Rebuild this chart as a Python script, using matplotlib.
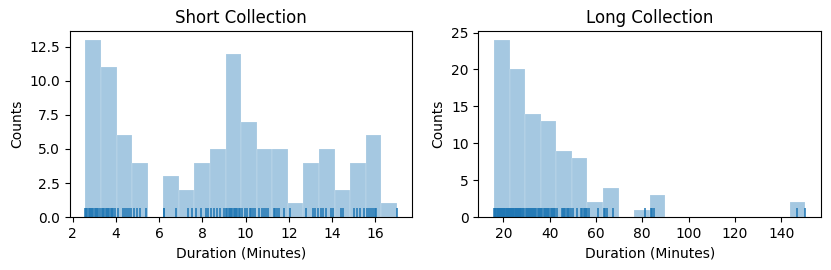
import matplotlib
matplotlib.use('Agg')
import matplotlib.pyplot as plt
import numpy as np

# durations in minutes (100 sessions each)
short_durations = [
    2.58, 2.62, 2.67, 2.73, 2.78, 2.84, 2.89, 2.95, 3.01, 3.07, 3.12, 3.18, 3.25,
    3.34, 3.40, 3.46, 3.52, 3.58, 3.63, 3.69, 3.75, 3.82, 3.88, 3.95,
    4.09, 4.31, 4.42, 4.50, 4.62, 4.70,
    4.85, 4.98, 5.10, 5.41,
    6.20, 6.24, 6.77,
    7.35, 7.52,
    7.69, 7.95, 8.15, 8.28,
    8.42, 8.55, 8.66, 8.80, 8.98,
    9.10, 9.15, 9.21, 9.27, 9.33, 9.38, 9.44, 9.50, 9.56, 9.62, 9.68, 9.74,
    9.84, 9.95, 10.05, 10.18, 10.25, 10.36, 10.45,
    10.62, 10.74, 10.85, 10.96, 11.05,
    11.30, 11.38, 11.47, 11.56, 11.80,
    12.05,
    12.80, 13.10, 13.22, 13.33,
    13.48, 13.58, 13.70, 13.96, 14.03,
    14.40, 14.52,
    15.02, 15.15, 15.30, 15.46,
    15.62, 15.72, 15.80, 15.90, 15.98, 16.05,
    17.00,
]

long_durations = [
    16.0, 16.3, 16.6, 16.9, 17.2, 17.5, 17.8, 18.1, 18.4, 18.7, 19.0, 19.3,
    19.6, 19.9, 20.2, 20.5, 20.8, 21.1, 21.4, 21.6, 21.9, 22.1, 22.3, 22.5,
    22.9, 23.2, 23.5, 23.8, 24.1, 24.4, 24.7, 25.0, 25.3, 25.6, 25.9, 26.2,
    26.5, 26.8, 27.1, 27.4, 27.8, 28.2, 28.6, 29.0,
    29.7, 30.1, 30.6, 31.0, 31.5, 31.9, 32.4, 32.8, 33.3, 33.8, 34.3, 34.8, 35.3, 35.8,
    36.4, 36.9, 37.4, 37.9, 38.4, 38.9, 39.4, 39.9, 40.4, 40.9, 41.4, 41.9, 42.5,
    43.3, 45.3, 45.8, 46.3, 46.8, 47.4, 47.9, 48.5, 49.2,
    50.2, 52.0, 53.5, 54.1, 54.7, 55.3, 55.8, 56.1,
    57.1, 61.0,
    63.5, 64.1, 65.0, 67.2,
    81.4,
    83.8, 84.3, 85.3,
    146.7, 150.5,
]

titles = ["Short Collection", "Long Collection"]

fig, axes = plt.subplots(1, 2, figsize=(8.31, 2.7), dpi=100)
for ax, data, title in zip(axes, [short_durations, long_durations], titles):
    # histogram + rug, distplot style
    ax.hist(data, bins=20, color='C0', alpha=0.4, edgecolor=(1, 1, 1, 0.6), linewidth=0.3)
    ax.vlines(data, 0, 0.05, transform=ax.get_xaxis_transform(), color='C0', linewidth=1.1)
    ax.set_title(title)
    ax.set_xlabel("Duration (Minutes)")
    ax.set_ylabel("Counts")

plt.subplots_adjust(left=0.084, right=0.988, top=0.885, bottom=0.196, wspace=0.193)
plt.savefig("out.png")
